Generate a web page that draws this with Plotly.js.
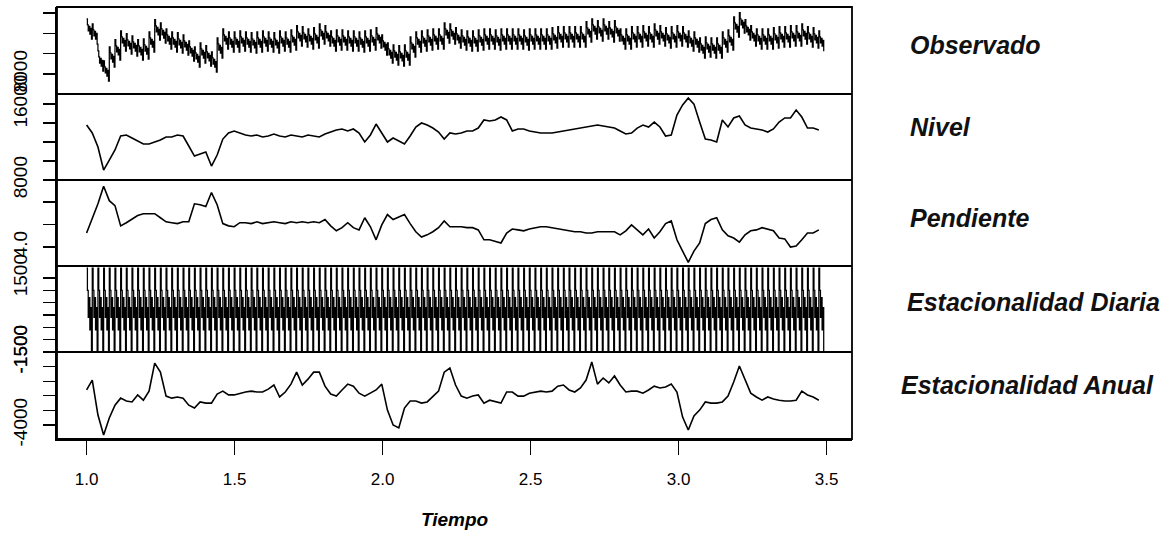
<!DOCTYPE html>
<html><head><meta charset="utf-8">
<script src="https://cdn.plot.ly/plotly-3.0.1.min.js"></script>
<style>html,body{margin:0;padding:0;background:#fff;} #chart{width:1171px;height:540px;}</style>
</head><body><div id="chart"></div>
<script>
// ---- data (weekly resolution) ----
const obsMedia = [12330,11840,9180,8200,9580,10270,11150,10860,10660,10270,
10360,11050,12240,11940,11350,11050,10960,10760,10170,9580,
9970,9680,9080,10460,11350,11050,11050,11150,11050,10960,
11050,11150,11050,10960,11150,11050,11250,11650,11550,11350,
11450,11840,11650,11150,11250,11250,11150,11150,11050,11150,
11250,11450,10760,9970,9770,9680,9770,10560,11050,11150,
11250,11350,11350,11940,11840,11450,11250,11150,11150,11250,
11350,11350,11250,11350,11350,11350,11350,11250,11350,11350,
11350,11350,11450,11550,11550,11550,11550,11550,12040,12330,
12140,12330,12040,12140,11350,11350,11550,11550,11650,11550,
11840,11650,11450,11550,11650,11550,11150,11050,10460,10560,
10460,10460,11050,11250,12530,12930,12240,11650,11350,11350,
11350,11450,11550,11550,11650,11650,11840,11550,11450,11150];
const obsSemana = [1100,500,-100,350,-400,150,-900];
const nivel = [13790,12950,11470,9050,10100,11160,12630,12740,12420,12100,
11790,11790,12000,12210,12530,12530,12740,12630,11580,10520,
10740,10950,9470,10630,12310,12950,13160,12950,12740,12630,
12740,12530,12630,12840,12630,12530,12740,12630,12530,12740,
12630,12530,12840,13050,13260,13370,13160,13370,12950,12000,
12740,13890,12950,12000,12420,12100,11790,12630,13580,14000,
13790,13470,13050,12310,12950,12840,12950,13160,13160,13470,
14320,14210,14320,14630,14320,13160,13370,13370,13160,13050,
12950,12950,12950,13050,13160,13260,13370,13470,13580,13680,
13790,13680,13580,13470,13160,12840,12950,13470,13790,13580,
14100,13580,12630,12740,14840,15900,16630,15990,14100,12310,
12210,12000,14320,13580,14530,14740,13790,13470,13370,13260,
13050,13370,14100,14530,14530,15370,14630,13470,13470,13260];
const pendiente = [4.31,4.65,4.96,5.35,5.03,4.92,4.47,4.54,4.63,4.70,
4.74,4.74,4.74,4.65,4.56,4.54,4.52,4.56,4.56,4.96,
4.94,4.90,5.21,4.94,4.52,4.47,4.45,4.54,4.54,4.52,
4.56,4.52,4.54,4.56,4.54,4.52,4.56,4.54,4.56,4.54,
4.56,4.54,4.61,4.47,4.36,4.43,4.54,4.43,4.38,4.65,
4.45,4.16,4.49,4.72,4.61,4.67,4.72,4.52,4.34,4.22,
4.27,4.34,4.43,4.58,4.45,4.45,4.45,4.43,4.43,4.38,
4.16,4.16,4.13,4.09,4.31,4.40,4.38,4.36,4.40,4.43,
4.45,4.45,4.43,4.40,4.38,4.36,4.34,4.34,4.31,4.31,
4.34,4.34,4.34,4.34,4.27,4.36,4.49,4.38,4.27,4.40,
4.20,4.34,4.52,4.58,4.16,3.91,3.66,3.91,4.09,4.52,
4.61,4.65,4.38,4.25,4.20,4.11,4.27,4.36,4.38,4.43,
4.40,4.36,4.20,4.18,4.00,4.02,4.16,4.31,4.31,4.38];
const diariaSemana = [1905,1000,-100,700,-600,300,-1459];
const anual = [-2800,-2460,-3660,-4340,-3760,-3320,-3080,-3180,-3210,-2970,
-3150,-2840,-1880,-2190,-3010,-3080,-3040,-3080,-3320,-3420,
-3210,-3250,-3250,-2940,-2840,-2970,-2970,-2910,-2870,-2840,
-2870,-2870,-2770,-2630,-3040,-2870,-2600,-2190,-2630,-2430,
-2190,-2190,-2670,-2940,-3010,-2800,-2600,-2670,-2910,-3010,
-2910,-2800,-2600,-3490,-4000,-4100,-3420,-3180,-3180,-3250,
-3210,-3040,-2840,-2190,-2050,-2630,-3010,-3080,-3010,-2970,
-3250,-3150,-3210,-3250,-2870,-2870,-3010,-3010,-2910,-2870,
-2840,-2870,-2840,-2670,-2630,-2800,-2870,-2730,-2460,-1840,
-2600,-2390,-2560,-2320,-2630,-2870,-2840,-2840,-2910,-2800,
-2670,-2730,-2700,-2600,-2870,-3730,-4170,-3690,-3490,-3210,
-3250,-3250,-3210,-3010,-2530,-1980,-2460,-2910,-3040,-3150,
-3040,-3110,-3150,-3180,-3180,-3150,-2840,-2970,-3040,-3150];
const etiquetas = ["Observado","Nivel","Pendiente","Estacionalidad Diaria","Estacionalidad Anual"];
const xTickVals = [1.0,1.5,2.0,2.5,3.0,3.5];
const xTickText = ["1.0","1.5","2.0","2.5","3.0","3.5"];
const y1Ticks = [8000,10000,12000,14000],  y1Text = ["8000","","",""];
const y2Ticks = [8000,10000,12000,14000,16000], y2Text = ["8000","","","","16000"];
const y3Ticks = [4.0,4.5,5.0,5.5], y3Text = ["4.0","","",""];
const y4Ticks = [-1500,-1000,-500,0,500,1000,1500], y4Text = ["-1500","","","","","","1500"];
const y5Ticks = [-4000,-3500,-3000,-2500,-2000,-1500], y5Text = ["-4000","","","","","-1500"];

// ---- build daily series (time in years, 365 days per unit) ----
const diasAnio = 365;
const xDia = [], yObs = [], yDiaria = [];
for (let w = 0; w < obsMedia.length; w++) {
  for (let d = 0; d < 7; d++) {
    const i = w * 7 + d;
    xDia.push(1 + i / diasAnio);
    yObs.push(obsMedia[w] + obsSemana[d]);
    yDiaria.push(diariaSemana[d]);
  }
}
const xSem = nivel.map((_, w) => 1 + 7 * w / diasAnio);

const dailyLine = {color: '#000', width: 1.25, shape: 'hv'};
const weekLine = {color: '#000', width: 1.6};
const traces = [
  {x: xDia, y: yObs, yaxis: 'y', type: 'scatter', mode: 'lines', line: dailyLine, hoverinfo: 'skip'},
  {x: xSem, y: nivel, yaxis: 'y2', type: 'scatter', mode: 'lines', line: weekLine, hoverinfo: 'skip'},
  {x: xSem, y: pendiente, yaxis: 'y3', type: 'scatter', mode: 'lines', line: weekLine, hoverinfo: 'skip'},
  {x: xDia, y: yDiaria, yaxis: 'y4', type: 'scatter', mode: 'lines', line: dailyLine, hoverinfo: 'skip'},
  {x: xSem, y: anual, yaxis: 'y5', type: 'scatter', mode: 'lines', line: weekLine, hoverinfo: 'skip'}
];

const FONT = 'Liberation Sans, Arial, Helvetica, sans-serif';
const L = 57, R = 852, T = 7, B = 439;
const H = B - T, W = R - L;
const bounds = [94, 180, 266, 352];
const fy = px => (B - px) / H;
const fx = px => (px - L) / W;

function yAx(top, bottom, range, tv, tt) {
  return {
    domain: [fy(bottom), fy(top)], range: range, anchor: 'x',
    showgrid: false, zeroline: false, showline: true, linecolor: '#000', linewidth: 1.8,
    ticks: 'outside', ticklen: 12, tickwidth: 1.2, tickcolor: '#000',
    tickvals: tv, ticktext: tt, tickangle: -90, ticklabelstandoff: 9,
    tickfont: {family: FONT, size: 19, color: '#000'}, fixedrange: true
  };
}

const layout = {
  width: 1171, height: 540,
  margin: {l: L, r: 1171 - R, t: T, b: 540 - B, pad: 0},
  paper_bgcolor: '#fff', plot_bgcolor: '#fff', showlegend: false,
  xaxis: {
    range: [0.9, 3.586], anchor: 'y5', showgrid: false, zeroline: false,
    showline: true, linecolor: '#000', linewidth: 1.8,
    ticks: 'outside', ticklen: 14, tickwidth: 1.2, tickcolor: '#000',
    tickvals: xTickVals, ticktext: xTickText, ticklabelstandoff: 10,
    tickfont: {family: FONT, size: 17, color: '#000'},
    title: {text: '<b><i>Tiempo</i></b>', font: {family: FONT, size: 19, color: '#000'}, standoff: 24},
    fixedrange: true
  },
  yaxis:  yAx(T, 94, [6033, 14590], y1Ticks, y1Text),
  yaxis2: yAx(94, 180, [8000, 17053], y2Ticks, y2Text),
  yaxis3: yAx(180, 266, [3.578, 5.489], y3Ticks, y3Text),
  yaxis4: yAx(266, 352, [-1500.5, 1986], y4Ticks, y4Text),
  yaxis5: yAx(352, B, [-4480, -1499.5], y5Ticks, y5Text),
  shapes: [
    {type: 'rect', xref: 'paper', yref: 'paper', x0: 0, x1: 1, y0: 0, y1: 1, line: {color: '#000', width: 1.8}},
    ...bounds.map(b => ({type: 'line', xref: 'paper', yref: 'paper', x0: 0, x1: 1, y0: fy(b), y1: fy(b), line: {color: '#000', width: 1.8}}))
  ],
  annotations: [
    [908, 44.5], [908, 127], [908, 218], [905, 302], [899, 385]
  ].map((p, k) => ({
    xref: 'paper', yref: 'paper', x: fx(p[0]), y: fy(p[1]), xanchor: 'left', yanchor: 'middle',
    text: '<b><i>' + etiquetas[k] + '</i></b>', showarrow: false,
    font: {family: FONT, size: 25, color: '#111'}
  }))
};

Plotly.newPlot('chart', traces, layout, {staticPlot: true, displayModeBar: false});
</script>
</body></html>
